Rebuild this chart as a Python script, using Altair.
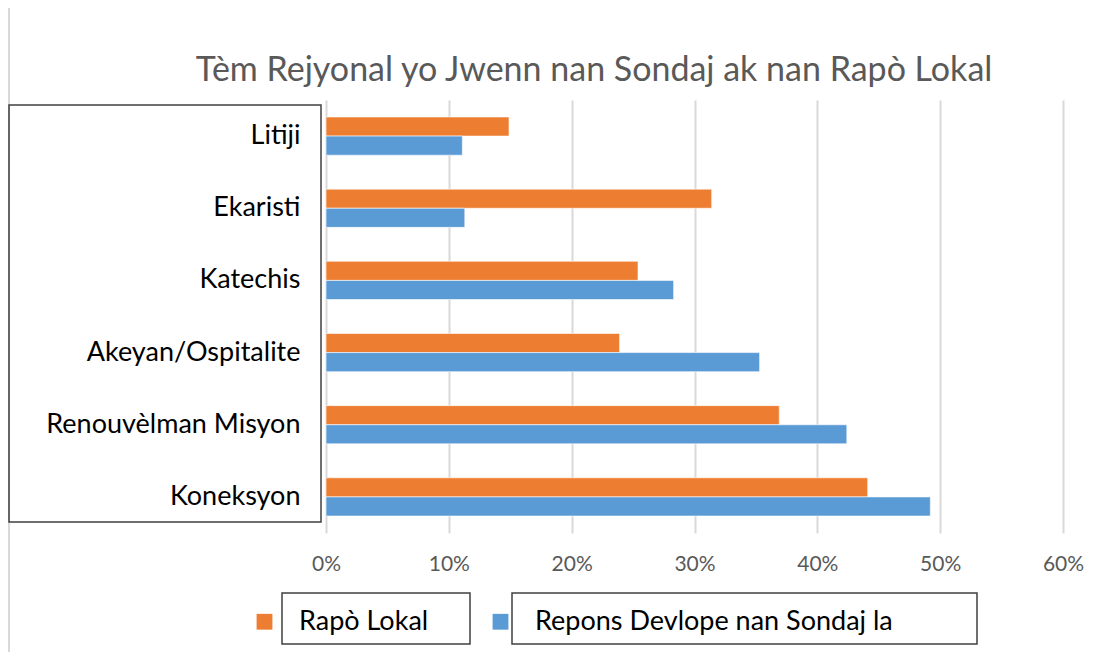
import altair as alt
import pandas as pd

title_text = "Tèm Rejyonal yo Jwenn nan Sondaj ak nan Rapò Lokal"
categories = ["Litiji", "Ekaristi", "Katechis", "Akeyan/Ospitalite", "Renouvèlman Misyon", "Koneksyon"]
series = ["Rapò Lokal", "Repons Devlope nan Sondaj la"]
rapo_lokal = [0.149, 0.314, 0.254, 0.239, 0.369, 0.441]
repons_sondaj = [0.111, 0.113, 0.283, 0.353, 0.424, 0.492]
colors = ["#ED7D31", "#5B9BD5"]
x_ticks = [0, 0.1, 0.2, 0.3, 0.4, 0.5, 0.6]

rows = []
for c, a, b in zip(categories, rapo_lokal, repons_sondaj):
    rows.append({"cat": c, "series": series[0], "val": a})
    rows.append({"cat": c, "series": series[1], "val": b})
df = pd.DataFrame(rows)

FONT = "Lato"

bars = alt.Chart(df).mark_bar(stroke="white", strokeWidth=0.6).encode(
    y=alt.Y("cat:N", sort=categories, title=None,
            scale=alt.Scale(paddingInner=0.47, paddingOuter=0.235),
            axis=alt.Axis(labelFontSize=27, labelColor="#000000", labelFont=FONT, labelLimit=400,
                          labelPadding=26, ticks=False, domain=False, grid=False)),
    yOffset=alt.YOffset("series:N", sort=series),
    x=alt.X("val:Q", title=None,
            scale=alt.Scale(domain=[0, 0.6], nice=False),
            axis=alt.Axis(values=x_ticks, format=".0%", labelFontSize=21, labelColor="#595959",
                          labelFont=FONT, labelPadding=20, labelFlush=False, ticks=False, domain=False,
                          grid=True, gridColor="#D9D9D9", gridWidth=2)),
    color=alt.Color("series:N", sort=series, title=None,
                    scale=alt.Scale(domain=series, range=colors),
                    legend=alt.Legend(orient="none", legendX=-75, legendY=508, direction="horizontal",
                                      symbolType="square", symbolSize=250, symbolStrokeWidth=0,
                                      labelFontSize=27, labelFont=FONT, labelColor="#000000",
                                      labelOffset=21, columnPadding=58, labelLimit=600)),
)

one = pd.DataFrame({"k": [0]})

title = alt.Chart(one).mark_text(text=title_text, font=FONT, fontSize=34, color="#595959",
                                 align="center", baseline="alphabetic").encode(
    x=alt.value(268), y=alt.value(-19))

label_box = alt.Chart(one).mark_rect(fill="transparent", stroke="#404040", strokeWidth=1.5).encode(
    x=alt.value(-317), x2=alt.value(-5), y=alt.value(5), y2=alt.value(422))
leg_box1 = alt.Chart(one).mark_rect(fill="transparent", stroke="#404040", strokeWidth=1.5).encode(
    x=alt.value(-44), x2=alt.value(144), y=alt.value(493), y2=alt.value(544))
leg_box2 = alt.Chart(one).mark_rect(fill="transparent", stroke="#404040", strokeWidth=1.5).encode(
    x=alt.value(186), x2=alt.value(651), y=alt.value(493), y2=alt.value(544))
frame_left = alt.Chart(one).mark_rule(color="#D9D9D9", strokeWidth=2).encode(
    x=alt.value(-317), y=alt.value(-92), y2=alt.value(552))

chart = alt.layer(frame_left, bars, label_box, leg_box1, leg_box2, title).properties(
    width=737, height=433,
    padding={"left": 318, "top": 92, "right": 29, "bottom": 119},
    autosize=alt.AutoSizeParams(type="none"),
).configure_view(stroke=None)

chart.save("out.html", embed_options={"renderer": "svg", "actions": False})
